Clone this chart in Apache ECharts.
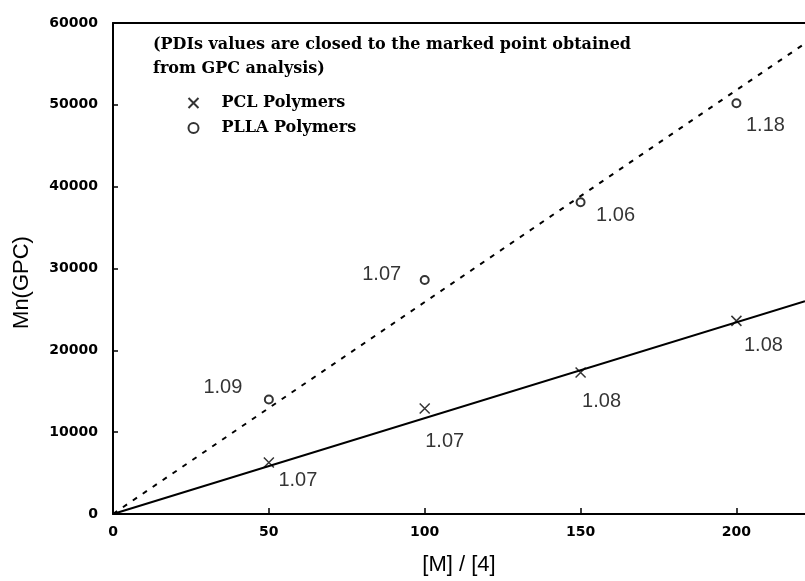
<!DOCTYPE html>
<html>
<head>
<meta charset="utf-8">
<script src="https://cdn.jsdelivr.net/npm/echarts@6/dist/echarts.min.js"></script>
<style>
html,body{margin:0;padding:0;background:#fff;}
#chart{width:805px;height:581px;}
</style>
</head>
<body>
<div id="chart"></div>
<script>
// ---- data ----
const ratioX = [50, 100, 150, 200];            // [M]/[4]
const pclMn = [6300, 12900, 17300, 23600];      // PCL Polymers Mn(GPC)
const pllaMn = [14000, 28600, 38100, 50200];    // PLLA Polymers Mn(GPC)
const pclPDI = ['1.07', '1.07', '1.08', '1.08'];
const pllaPDI = ['1.09', '1.07', '1.06', '1.18'];
const fitX = [0, 222];                          // trend line ends
const pclFit = [0, 26000];
const pllaFit = [0, 57500];
const xTicks = [0, 50, 100, 150, 200];
const yTicks = [0, 10000, 20000, 30000, 40000, 50000, 60000];
const noteLines = ['(PDIs values are closed to the marked point obtained', 'from GPC analysis)'];
const seriesNames = ['PCL Polymers', 'PLLA Polymers'];

// ---- layout (label offsets relative to each marker) ----
const pclLabelOffsets = [[29, 18], [20, 33], [21, 29], [27, 25]];
const pllaLabelOffsets = [[-46, -12], [-43, -5], [35, 13], [29, 22]];

const crossPath = 'path://M0,0L10,10M10,0L0,10';
const tickFont = { fontFamily: 'DejaVu Sans', fontWeight: 'bold', fontSize: 14, color: '#000' };
const serifFont = 'DejaVu Serif';

function pts(xs, ys, labels, offs) {
  return xs.map((x, i) => ({
    value: [x, ys[i]],
    label: { show: true, formatter: labels[i], offset: offs[i], color: '#000' }
  }));
}

const chart = echarts.init(document.getElementById('chart'), null, { renderer: 'canvas' });
chart.setOption({
  animation: false,
  backgroundColor: '#fff',
  title: {
    text: noteLines.join('\n'),
    left: 148, top: 28,
    textStyle: { fontFamily: serifFont, fontWeight: 'bold', fontSize: 16, lineHeight: 24, color: '#000' }
  },
  legend: {
    orient: 'vertical',
    left: 181, top: 90,
    itemWidth: 46, itemHeight: 10, itemGap: 9,
    textStyle: { fontFamily: serifFont, fontWeight: 'bold', fontSize: 16, color: '#000' },
    data: [
      { name: seriesNames[0], icon: crossPath },
      { name: seriesNames[1], icon: 'circle' }
    ]
  },
  grid: { left: 113, top: 23, right: 0, bottom: 65, containLabel: false },
  xAxis: [{
    type: 'value', min: xTicks[0], max: fitX[1], interval: 50,
    name: '[M] / [4]', nameLocation: 'middle', nameGap: 40,
    nameTextStyle: { fontFamily: 'Liberation Sans', fontSize: 22, color: '#000' },
    axisLine: { show: true, lineStyle: { color: '#000', width: 2 } },
    axisTick: { show: true, inside: true, length: 6, lineStyle: { color: '#000', width: 1.5 } },
    axisLabel: Object.assign({ margin: 11, showMaxLabel: false,
      formatter: v => (xTicks.indexOf(v) >= 0 ? String(v) : '') }, tickFont),
    splitLine: { show: false }
  }, {
    type: 'value', position: 'top', min: xTicks[0], max: fitX[1],
    axisLine: { show: true, onZero: false, lineStyle: { color: '#000', width: 2 } },
    axisTick: { show: false }, axisLabel: { show: false }, splitLine: { show: false }
  }],
  yAxis: {
    type: 'value', min: yTicks[0], max: yTicks[yTicks.length - 1], interval: 10000,
    name: 'Mn(GPC)', nameLocation: 'middle', nameGap: 80,
    nameTextStyle: { fontFamily: 'Liberation Sans', fontSize: 22, color: '#000', padding: [0, 28, 0, 0] },
    axisLine: { show: true, lineStyle: { color: '#000', width: 2 } },
    axisTick: { show: true, inside: true, length: 5, lineStyle: { color: '#000', width: 1.5 } },
    axisLabel: Object.assign({ margin: 15, formatter: v => String(v) }, tickFont),
    splitLine: { show: false }
  },
  series: [
    {
      name: seriesNames[0] + ' fit', type: 'line', symbol: 'none', silent: true,
      data: fitX.map((x, i) => [x, pclFit[i]]),
      lineStyle: { color: '#000', width: 2, type: 'solid' }
    },
    {
      name: seriesNames[1] + ' fit', type: 'line', symbol: 'none', silent: true,
      data: fitX.map((x, i) => [x, pllaFit[i]]),
      lineStyle: { color: '#000', width: 2, type: [5, 7] }
    },
    {
      name: seriesNames[0], type: 'scatter', symbol: crossPath, symbolSize: 10,
      itemStyle: { color: 'none', borderColor: '#000', borderWidth: 1.5 },
      label: { position: 'inside', color: '#000', textBorderWidth: 0, fontFamily: 'Liberation Sans', fontSize: 20 },
      data: pts(ratioX, pclMn, pclPDI, pclLabelOffsets)
    },
    {
      name: seriesNames[1], type: 'scatter', symbol: 'circle', symbolSize: 8,
      itemStyle: { color: '#fff', borderColor: '#000', borderWidth: 2 },
      label: { position: 'inside', color: '#000', textBorderWidth: 0, fontFamily: 'Liberation Sans', fontSize: 20 },
      data: pts(ratioX, pllaMn, pllaPDI, pllaLabelOffsets)
    }
  ]
});
</script>
</body>
</html>
